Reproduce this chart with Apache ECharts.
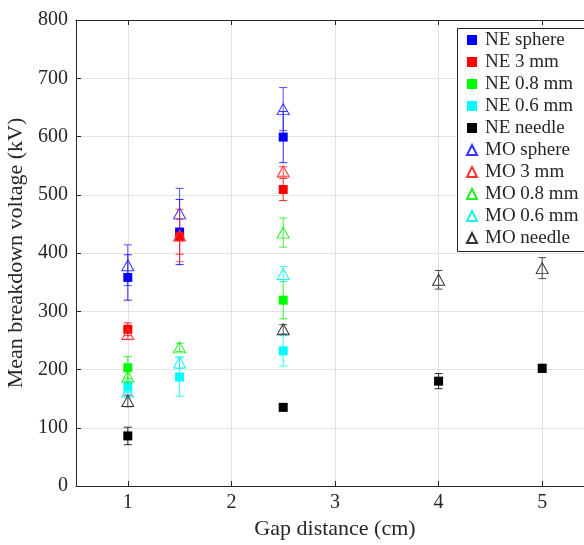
<!DOCTYPE html>
<html><head><meta charset="utf-8">
<script src="https://cdn.jsdelivr.net/npm/echarts@6/dist/echarts.min.js"></script>
<style>html,body{margin:0;padding:0;background:#fff}#c{width:584px;height:545px}</style>
</head><body><div id="c"></div>
<script>
// ---- data (gap distance in cm, mean breakdown voltage in kV, error in kV) ----
const xTicks = [1, 2, 3, 4, 5];
const yTicks = [0, 100, 200, 300, 400, 500, 600, 700, 800];

const neSphereX = [1, 1.5, 2.5];      const neSphereY = [358, 436, 599];      const neSphereErr = [39, 56, 44];
const ne3mmX = [1, 1.5, 2.5];         const ne3mmY = [269, 428, 509];         const ne3mmErr = [11, 30, 19];
const ne08X = [1, 2.5];               const ne08Y = [203, 319];               const ne08Err = [19, 32];
const ne06X = [1, 1.5, 2.5];          const ne06Y = [170, 187, 232];          const ne06Err = [10, 33, 26];
const neNeedleX = [1, 2.5, 4, 5];     const neNeedleY = [86, 135, 180, 202];  const neNeedleErr = [15, 5, 13, 7];
const moSphereX = [1, 1.5, 2.5];      const moSphereY = [379, 468, 647];      const moSphereErr = [35, 43, 37];
const mo3mmX = [1, 1.5, 2.5];         const mo3mmY = [261, 430, 540];         const mo3mmErr = [9, 45, 8];
const mo08X = [1, 1.5, 2.5];          const mo08Y = [188, 238, 435];          const mo08Err = [10, 7, 25];
const mo06X = [1, 1.5, 2.5];          const mo06Y = [162, 212, 364];          const mo06Err = [8, 10, 13];
const moNeedleX = [1, 2.5, 4, 5];     const moNeedleY = [146, 269, 354, 374]; const moNeedleErr = [10, 8, 16, 18];

const seriesNames = ['NE sphere', 'NE 3 mm', 'NE 0.8 mm', 'NE 0.6 mm', 'NE needle',
                     'MO sphere', 'MO 3 mm', 'MO 0.8 mm', 'MO 0.6 mm', 'MO needle'];

// ---- build ----
const defs = [
  { name: seriesNames[0], x: neSphereX, y: neSphereY, e: neSphereErr, c: '#0000ff', mo: false },
  { name: seriesNames[1], x: ne3mmX, y: ne3mmY, e: ne3mmErr, c: '#ff0000', mo: false },
  { name: seriesNames[2], x: ne08X, y: ne08Y, e: ne08Err, c: '#00ff00', mo: false },
  { name: seriesNames[3], x: ne06X, y: ne06Y, e: ne06Err, c: '#00ffff', mo: false },
  { name: seriesNames[4], x: neNeedleX, y: neNeedleY, e: neNeedleErr, c: '#000000', mo: false },
  { name: seriesNames[5], x: moSphereX, y: moSphereY, e: moSphereErr, c: '#3333ff', mo: true },
  { name: seriesNames[6], x: mo3mmX, y: mo3mmY, e: mo3mmErr, c: '#ff3333', mo: true },
  { name: seriesNames[7], x: mo08X, y: mo08Y, e: mo08Err, c: '#22ee22', mo: true },
  { name: seriesNames[8], x: mo06X, y: mo06Y, e: mo06Err, c: '#22eeee', mo: true },
  { name: seriesNames[9], x: moNeedleX, y: moNeedleY, e: moNeedleErr, c: '#333333', mo: true }
];

const FONT = 'Liberation Serif';
const TXT = '#262626';
const series = [];

defs.forEach(function (d) {
  series.push({
    type: 'custom',
    name: d.name + ' err',
    silent: true,
    z: 2,
    encode: { x: 0, y: 1 },
    data: d.x.map(function (xv, i) { return [xv, d.y[i], d.e[i]]; }),
    renderItem: function (params, api) {
      const x = api.value(0), y = api.value(1), e = api.value(2);
      const t = api.coord([x, y + e]), b = api.coord([x, y - e]);
      const hw = 4;
      const st = { stroke: d.c, lineWidth: 1, opacity: 0.85 };
      return { type: 'group', children: [
        { type: 'line', shape: { x1: t[0], y1: t[1], x2: b[0], y2: b[1] }, style: st },
        { type: 'line', shape: { x1: t[0] - hw, y1: t[1], x2: t[0] + hw, y2: t[1] }, style: st },
        { type: 'line', shape: { x1: b[0] - hw, y1: b[1], x2: b[0] + hw, y2: b[1] }, style: st }
      ] };
    }
  });
});

defs.forEach(function (d) {
  series.push({
    type: 'scatter',
    name: d.name,
    z: 3,
    symbol: d.mo ? 'triangle' : 'rect',
    symbolSize: d.mo ? [12, 11] : 9,
    itemStyle: d.mo
      ? { color: 'rgba(255,255,255,0)', borderColor: d.c, borderWidth: 1, opacity: 1 }
      : { color: d.c, opacity: 1 },
    emphasis: { disabled: true },
    data: d.x.map(function (xv, i) { return [xv, d.y[i]]; })
  });
});

const chart = echarts.init(document.getElementById('c'), null, { renderer: 'canvas' });
chart.setOption({
  animation: false,
  backgroundColor: '#fff',
  textStyle: { fontFamily: FONT },
  grid: { left: 76, top: 20, right: -10, bottom: 59, containLabel: false, outerBoundsMode: 'none' },
  graphic: [{
    type: 'rect', left: 457, top: 28, z: 90, silent: true,
    shape: { width: 140, height: 223 },
    style: { fill: '#fff', stroke: '#262626', lineWidth: 1 }
  }],
  legend: {
    data: seriesNames,
    orient: 'vertical',
    left: 457, top: 28, z: 100,
    padding: [1, 5, 1, 9],
    itemGap: 0,
    itemWidth: 10, itemHeight: 10,
    selectedMode: false,
    textStyle: { fontFamily: FONT, fontSize: 19, color: TXT, lineHeight: 22, padding: [0, 0, 0, 3] }
  },
  xAxis: [{
    type: 'value', min: 0.5, max: 5.5,
    name: 'Gap distance (cm)', nameLocation: 'middle', nameGap: 30,
    nameTextStyle: { fontFamily: FONT, fontSize: 22, color: TXT },
    axisLine: { show: true, lineStyle: { color: '#262626', width: 1 } },
    axisTick: { show: true, inside: true, length: 5, customValues: xTicks, lineStyle: { color: '#262626' } },
    axisLabel: { customValues: xTicks, fontFamily: FONT, fontSize: 20, color: TXT, margin: 7 },
    splitLine: { show: true, lineStyle: { color: '#e3e3e3', width: 1 } }
  }, {
    type: 'value', min: 0.5, max: 5.5, position: 'top',
    axisLine: { show: true, onZero: false, lineStyle: { color: '#262626', width: 1 } },
    axisTick: { show: true, inside: true, length: 5, customValues: xTicks, lineStyle: { color: '#262626' } },
    axisLabel: { show: false },
    splitLine: { show: false }
  }],
  yAxis: {
    type: 'value', min: 0, max: 800, interval: 100,
    name: 'Mean breakdown voltage (kV)', nameLocation: 'middle', nameGap: 40,
    nameTextStyle: { fontFamily: FONT, fontSize: 22, color: TXT },
    axisLine: { show: true, lineStyle: { color: '#262626', width: 1 } },
    axisTick: { show: true, inside: true, length: 5, lineStyle: { color: '#262626' } },
    axisLabel: { fontFamily: FONT, fontSize: 20, color: TXT, margin: 8 },
    splitLine: { show: true, lineStyle: { color: '#e3e3e3', width: 1 } }
  },
  series: series
});
</script></body></html>
